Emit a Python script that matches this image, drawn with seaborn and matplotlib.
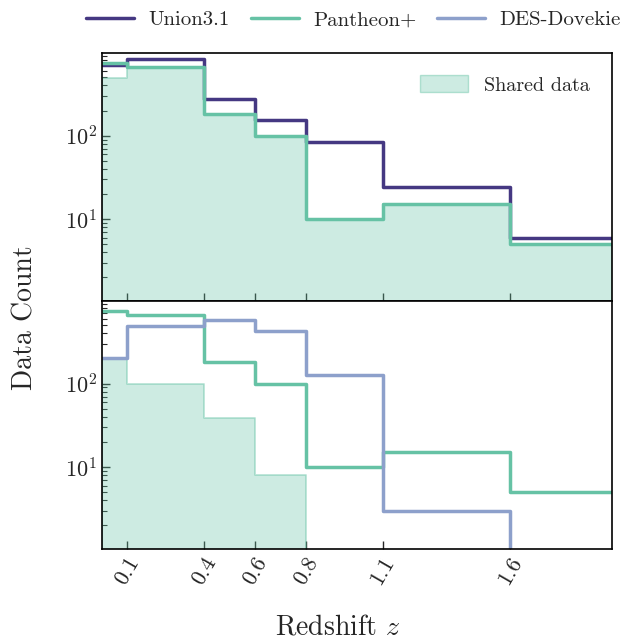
import numpy as np
import pandas as pd
import matplotlib
matplotlib.use('Agg')
import matplotlib.pyplot as plt
from matplotlib.colors import to_rgba
from matplotlib.lines import Line2D
from matplotlib.patches import Patch
import seaborn as sns

# redshift bins
z_edges = [0.0, 0.1, 0.4, 0.6, 0.8, 1.1, 1.6, 2.0]
z_ticks = [0.1, 0.4, 0.6, 0.8, 1.1, 1.6]
z_ticklabels = ['0.1', '0.4', '0.6', '0.8', '1.1', '1.6']

# counts per bin
union_counts = [695, 840, 277, 156, 85, 24, 6]
pantheon_counts = [748, 660, 182, 100, 10, 15, 5]
des_counts = [201, 485, 578, 422, 128, 3, 0]
shared_union_pantheon = [496, 660, 182, 100, 10, 15, 5]
shared_des_pantheon = [201, 100, 39, 8, 0, 0, 0]

c_union = '#453882'
c_pantheon = '#66c2a5'
c_des = '#8da0cb'

sns.set_theme(style='ticks')
plt.rcParams['font.family'] = ['cmr10']
plt.rcParams['mathtext.fontset'] = 'cm'
plt.rcParams['axes.formatter.use_mathtext'] = True
plt.rcParams['axes.linewidth'] = 1.2
plt.rcParams['axes.edgecolor'] = 'black'

edges = np.array(z_edges)
centers = 0.5 * (edges[:-1] + edges[1:])


def step_line(ax, counts, color):
    df = pd.DataFrame({'z': centers, 'n': counts})
    sns.histplot(data=df, x='z', weights='n', bins=z_edges, element='step',
                 fill=False, color=color, linewidth=2.5, ax=ax)


def shared_fill(ax, counts):
    df = pd.DataFrame({'z': centers, 'n': counts})
    sns.histplot(data=df, x='z', weights='n', bins=z_edges, element='step',
                 fill=True, color=c_pantheon,
                 facecolor=to_rgba(c_pantheon, 0.32),
                 edgecolor=to_rgba(c_pantheon, 0.45), linewidth=1.3, ax=ax)


fig, (ax1, ax2) = plt.subplots(2, 1, sharex=True, figsize=(6.37, 6.41), dpi=100)
fig.subplots_adjust(left=0.160, right=0.961, top=0.917, bottom=0.1435, hspace=0)

# top: Union3.1 vs Pantheon+
shared_fill(ax1, shared_union_pantheon)
step_line(ax1, union_counts, c_union)
step_line(ax1, pantheon_counts, c_pantheon)

# bottom: Pantheon+ vs DES-Dovekie
shared_fill(ax2, shared_des_pantheon)
step_line(ax2, pantheon_counts, c_pantheon)
step_line(ax2, des_counts, c_des)

for ax in (ax1, ax2):
    ax.set_yscale('log')
    ax.set_ylim(1.04, 975)
    ax.set_xlim(0, 2.0)
    ax.set_ylabel('')
    ax.set_xlabel('')
    ax.tick_params(which='both', direction='in', top=False, right=False)
    ax.tick_params(which='major', length=6, width=1.0, labelsize=16)
    ax.tick_params(which='minor', length=3.5, width=0.8)
    for s in ax.spines.values():
        s.set_visible(True)
        s.set_linewidth(1.2)

ax2.set_xticks(z_ticks)
ax2.set_xticklabels(z_ticklabels, rotation=60, fontsize=16)
ax2.xaxis.set_minor_locator(matplotlib.ticker.NullLocator())

ax1.legend(handles=[Patch(facecolor=to_rgba(c_pantheon, 0.32),
                          edgecolor=to_rgba(c_pantheon, 0.45), label='Shared data')],
           loc='upper right', frameon=False, fontsize=14.5, handlelength=2.4,
           handleheight=0.9, borderaxespad=0.7)

handles = [Line2D([], [], color=c_union, lw=2.5, label='Union3.1'),
           Line2D([], [], color=c_pantheon, lw=2.5, label='Pantheon+'),
           Line2D([], [], color=c_des, lw=2.5, label='DES-Dovekie')]
fig.legend(handles=handles, loc='center', bbox_to_anchor=(0.555, 0.969), ncol=3,
           frameon=False, fontsize=15, handlelength=2.3, handletextpad=0.7,
           columnspacing=1.0)

fig.text(0.040, 0.505, 'Data Count', rotation=90, ha='center', va='center', fontsize=20)
fig.text(0.531, 0.022, r'Redshift $z$', ha='center', va='center', fontsize=20)

fig.savefig('out.png', dpi=100)
